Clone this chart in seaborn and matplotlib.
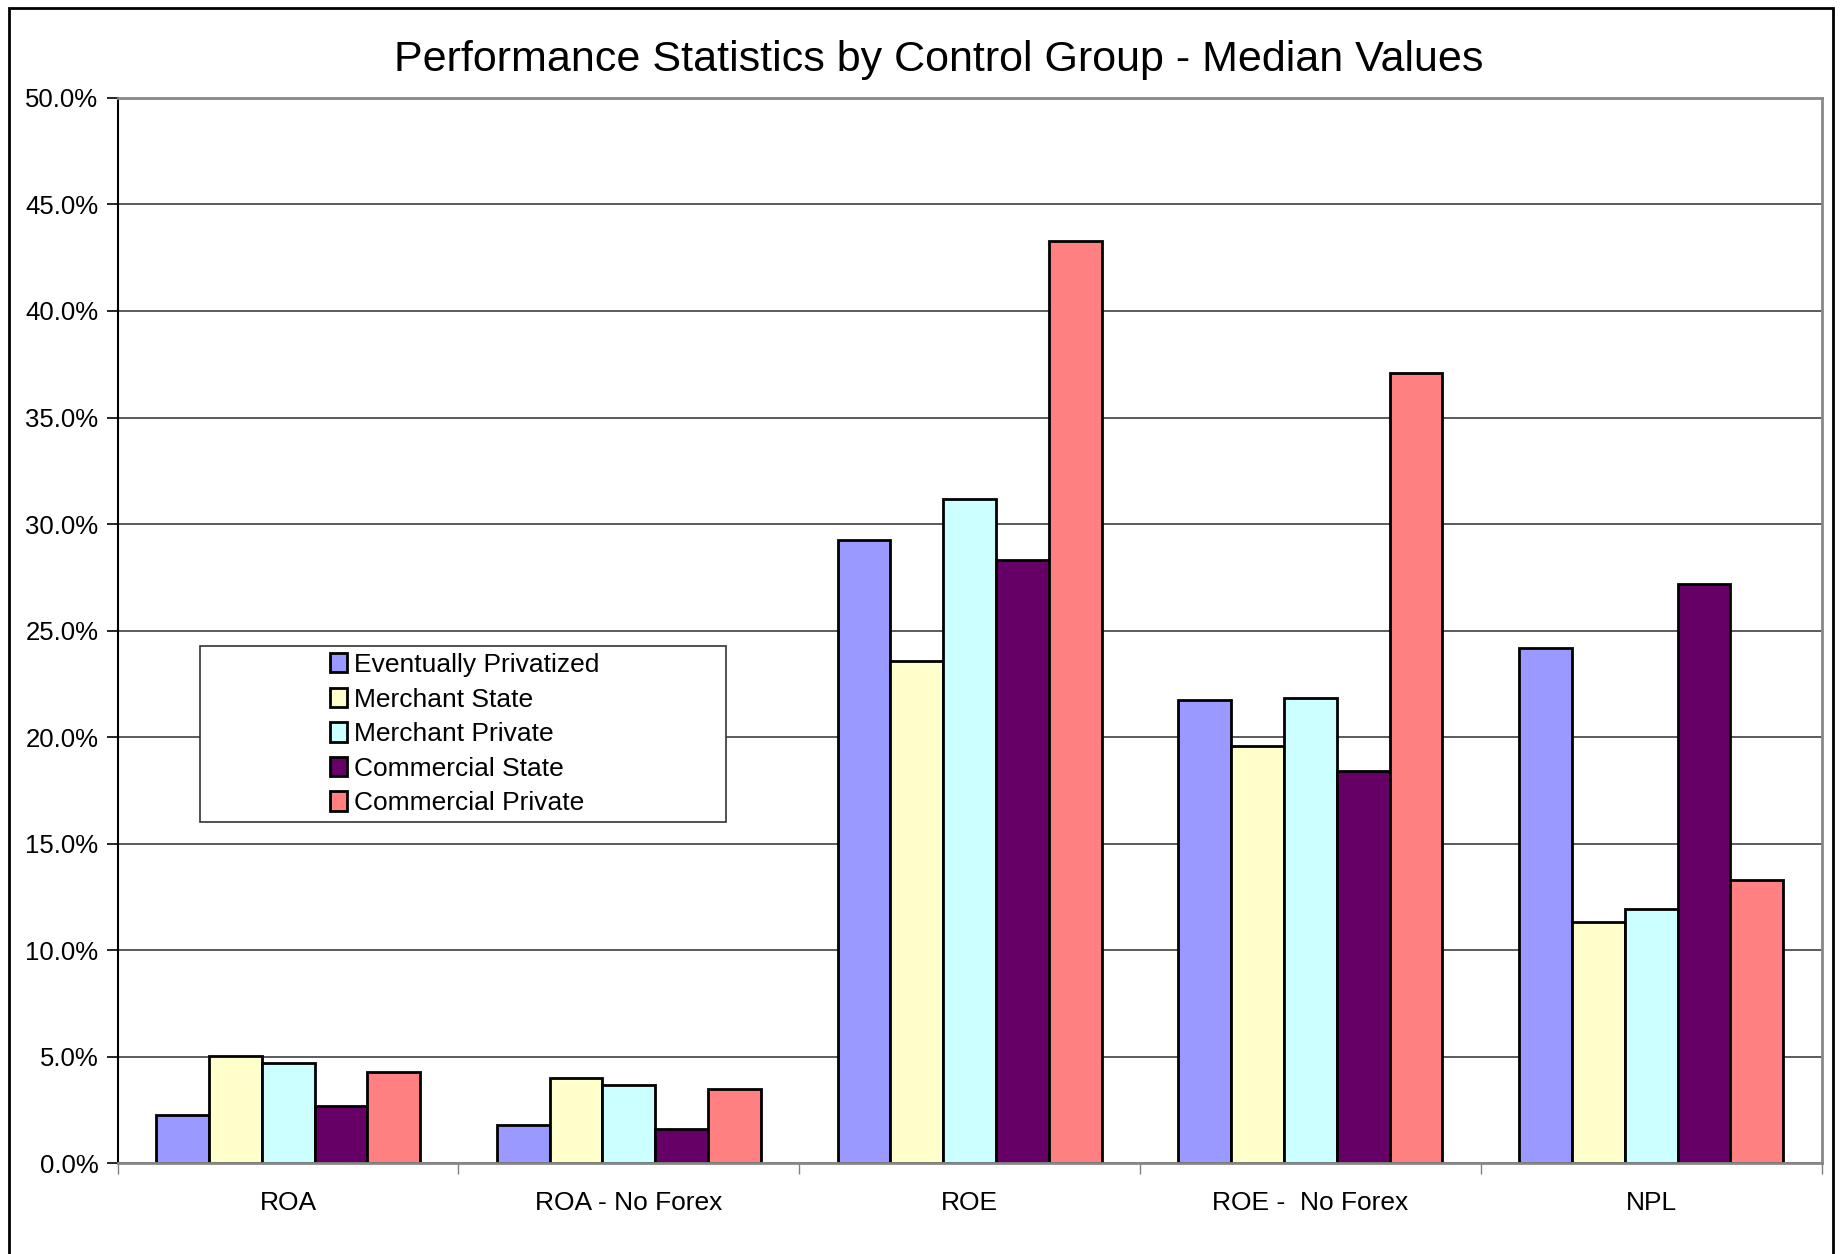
import numpy as np
import pandas as pd
import matplotlib.pyplot as plt
import seaborn as sns
from matplotlib.patches import Patch, Rectangle
from matplotlib.ticker import PercentFormatter, MultipleLocator, FixedLocator

categories = ['ROA', 'ROA - No Forex', 'ROE', 'ROE -  No Forex', 'NPL']
groups = [
    'Eventually Privatized',
    'Merchant State',
    'Merchant Private',
    'Commercial State',
    'Commercial Private',
]
eventually_privatized = [2.27, 1.79, 29.25, 21.74, 24.17]
merchant_state = [5.03, 4.03, 23.57, 19.59, 11.31]
merchant_private = [4.70, 3.68, 31.18, 21.85, 11.92]
commercial_state = [2.71, 1.61, 28.31, 18.43, 27.21]
commercial_private = [4.31, 3.50, 43.27, 37.09, 13.30]
colors = ['#9999FF', '#FFFFCC', '#CCFFFF', '#660066', '#FF8080']

series = [
    eventually_privatized,
    merchant_state,
    merchant_private,
    commercial_state,
    commercial_private,
]
df = pd.DataFrame(
    {
        'category': categories * len(groups),
        'group': [g for g in groups for _ in categories],
        'value': [v for s in series for v in s],
    }
)

sns.set_style('white')
plt.rcParams['font.family'] = ['Liberation Sans', 'DejaVu Sans']
plt.rcParams['text.color'] = 'black'
plt.rcParams['xtick.color'] = 'black'
plt.rcParams['ytick.color'] = 'black'

fig = plt.figure(figsize=(18.45, 12.54), dpi=100)
ax = fig.add_axes([0.0638, 0.0722, 0.9235, 0.8498])

sns.barplot(
    data=df,
    x='category',
    y='value',
    hue='group',
    hue_order=groups,
    order=categories,
    palette=colors,
    edgecolor='black',
    linewidth=2,
    width=0.775,
    gap=0,
    saturation=1,
    legend=False,
    ax=ax,
)

ax.set_xlim(-0.5, len(categories) - 0.5)
ax.set_ylim(0, 50)
ax.yaxis.set_major_locator(MultipleLocator(5))
ax.yaxis.set_major_formatter(PercentFormatter(decimals=1))
ax.grid(axis='y', color='#404040', linewidth=1.2)
ax.set_axisbelow(True)
ax.set_xlabel('')
ax.set_ylabel('')

ax.xaxis.set_minor_locator(FixedLocator(np.arange(-0.5, len(categories), 1.0)))
ax.tick_params(axis='x', which='major', length=0, pad=20, labelsize=19,
               labelcolor='black')
ax.tick_params(axis='x', which='minor', length=8, width=1, color='#808080',
               direction='out', bottom=True)
ax.tick_params(axis='y', length=8, width=1.2, color='black', direction='out',
               left=True, pad=6, labelsize=18.5, labelcolor='black')

for side in ['top', 'right', 'bottom']:
    ax.spines[side].set_color('#888888')
    ax.spines[side].set_linewidth(2)
ax.spines['left'].set_color('black')
ax.spines['left'].set_linewidth(1.5)

ax.set_title('Performance Statistics by Control Group - Median Values',
             fontsize=31, pad=19, color='black', x=0.4817)

# legend box
ax.add_patch(Rectangle((0.0483, 0.320), 0.3087, 0.1657, transform=ax.transAxes,
                       facecolor='white', edgecolor='#333333', linewidth=1.2,
                       zorder=5))
handles = [Patch(facecolor=c, edgecolor='black', linewidth=2) for c in colors]
leg = ax.legend(handles, groups, loc='upper left',
                bbox_to_anchor=(0.1245, 0.479), frameon=False, fontsize=19,
                borderpad=0, borderaxespad=0, labelspacing=0.4,
                handlelength=0.65, handleheight=0.75, handletextpad=0.25)
leg.set_zorder(6)

fig.patches.append(Rectangle((0.0051, -0.05), 0.9885, 1.0434,
                             transform=fig.transFigure, fill=False,
                             edgecolor='black', linewidth=2))

fig.savefig('out.png', dpi=100)
